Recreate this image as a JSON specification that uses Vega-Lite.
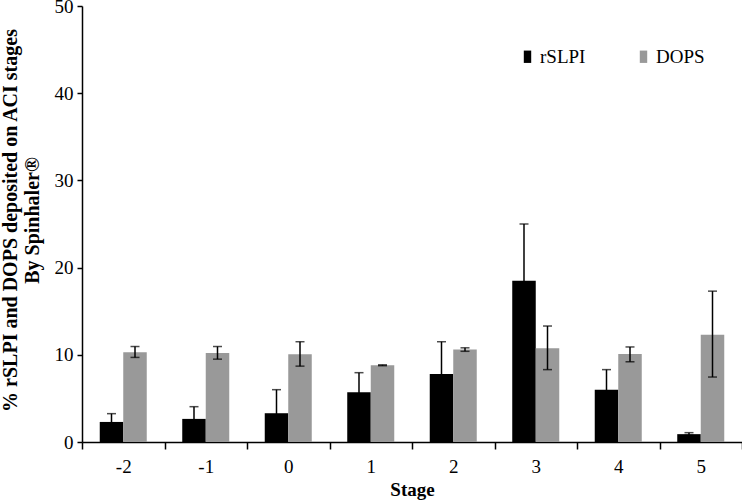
{
  "$schema": "https://vega.github.io/schema/vega-lite/v6.json",
  "width": 660,
  "height": 436,
  "autosize": {"type": "none"},
  "padding": {"left": 82, "top": 6, "right": 0, "bottom": 59},
  "background": "white",
  "config": {
    "view": {"stroke": null},
    "font": "Liberation Serif",
    "axis": {"grid": false, "domainColor": "black", "tickColor": "black", "domainWidth": 1.5, "tickWidth": 1.5, "labelColor": "black", "titleColor": "black", "labelFont": "Liberation Serif", "titleFont": "Liberation Serif"}
  },
  "data": {
    "values": [
      {"stage": "-2", "series": "rSLPI", "value": 2.3, "lo": 1.35, "hi": 3.25},
      {"stage": "-2", "series": "DOPS", "value": 10.3, "lo": 9.7, "hi": 10.95},
      {"stage": "-1", "series": "rSLPI", "value": 2.65, "lo": 1.25, "hi": 4.05},
      {"stage": "-1", "series": "DOPS", "value": 10.2, "lo": 9.5, "hi": 10.95},
      {"stage": "0", "series": "rSLPI", "value": 3.3, "lo": 0.55, "hi": 6.0},
      {"stage": "0", "series": "DOPS", "value": 10.05, "lo": 8.7, "hi": 11.5},
      {"stage": "1", "series": "rSLPI", "value": 5.7, "lo": 3.45, "hi": 7.95},
      {"stage": "1", "series": "DOPS", "value": 8.8, "lo": 8.75, "hi": 8.85},
      {"stage": "2", "series": "rSLPI", "value": 7.8, "lo": 4.1, "hi": 11.5},
      {"stage": "2", "series": "DOPS", "value": 10.6, "lo": 10.4, "hi": 10.8},
      {"stage": "3", "series": "rSLPI", "value": 18.5, "lo": 12.0, "hi": 25.0},
      {"stage": "3", "series": "DOPS", "value": 10.75, "lo": 8.3, "hi": 13.3},
      {"stage": "4", "series": "rSLPI", "value": 6.0, "lo": 3.7, "hi": 8.3},
      {"stage": "4", "series": "DOPS", "value": 10.1, "lo": 9.2, "hi": 10.9},
      {"stage": "5", "series": "rSLPI", "value": 0.9, "lo": 0.75, "hi": 1.07},
      {"stage": "5", "series": "DOPS", "value": 12.3, "lo": 7.45, "hi": 17.3}
    ]
  },
  "encoding": {
    "x": {
      "field": "stage", "type": "nominal", "sort": null,
      "scale": {"paddingInner": 0, "paddingOuter": 0},
      "axis": {"title": "Stage", "labelAngle": 0, "labelFontSize": 19, "titleFontSize": 19, "titleFontWeight": "bold", "tickBand": "extent", "tickSize": 7, "labelPadding": 8, "titlePadding": 4}
    },
    "xOffset": {"field": "series", "type": "nominal", "sort": ["rSLPI", "DOPS"], "scale": {"paddingInner": 0, "paddingOuter": 0.755}}
  },
  "layer": [
    {
      "mark": {"type": "bar"},
      "encoding": {
        "y": {
          "field": "value", "type": "quantitative",
          "scale": {"domain": [0, 50]},
          "axis": {
            "title": ["% rSLPI and DOPS deposited on ACI stages", "By Spinhaler®"],
            "values": [0, 10, 20, 30, 40, 50],
            "labelFontSize": 19, "titleFontSize": 20, "titleFontWeight": "bold",
            "tickSize": 5, "labelPadding": 4,
            "titleX": -62, "titleY": 214, "titleLineHeight": 22, "titleAngle": -90, "titleBaseline": "bottom", "titleAlign": "center"
          }
        },
        "color": {
          "field": "series", "type": "nominal",
          "scale": {"domain": ["rSLPI", "DOPS"], "range": ["#000000", "#999999"]},
          "legend": {
            "title": null, "orient": "none", "direction": "horizontal",
            "legendX": 436, "legendY": 41, "padding": 0,
            "symbolType": "M-0.39,-0.65H0.39V0.65H-0.39Z", "symbolSize": 361, "symbolStrokeWidth": 0,
            "labelFontSize": 19, "labelFont": "Liberation Serif", "labelColor": "black",
            "labelOffset": 3, "columnPadding": 48
          }
        }
      }
    },
    {
      "mark": {"type": "rule", "color": "black", "strokeWidth": 1.5},
      "encoding": {
        "y": {"field": "lo", "type": "quantitative"},
        "y2": {"field": "hi"}
      }
    },
    {
      "mark": {"type": "tick", "color": "black", "thickness": 1.5, "size": 9},
      "encoding": {"y": {"field": "hi", "type": "quantitative"}}
    },
    {
      "mark": {"type": "tick", "color": "black", "thickness": 1.5, "size": 9},
      "encoding": {"y": {"field": "lo", "type": "quantitative"}}
    }
  ]
}
